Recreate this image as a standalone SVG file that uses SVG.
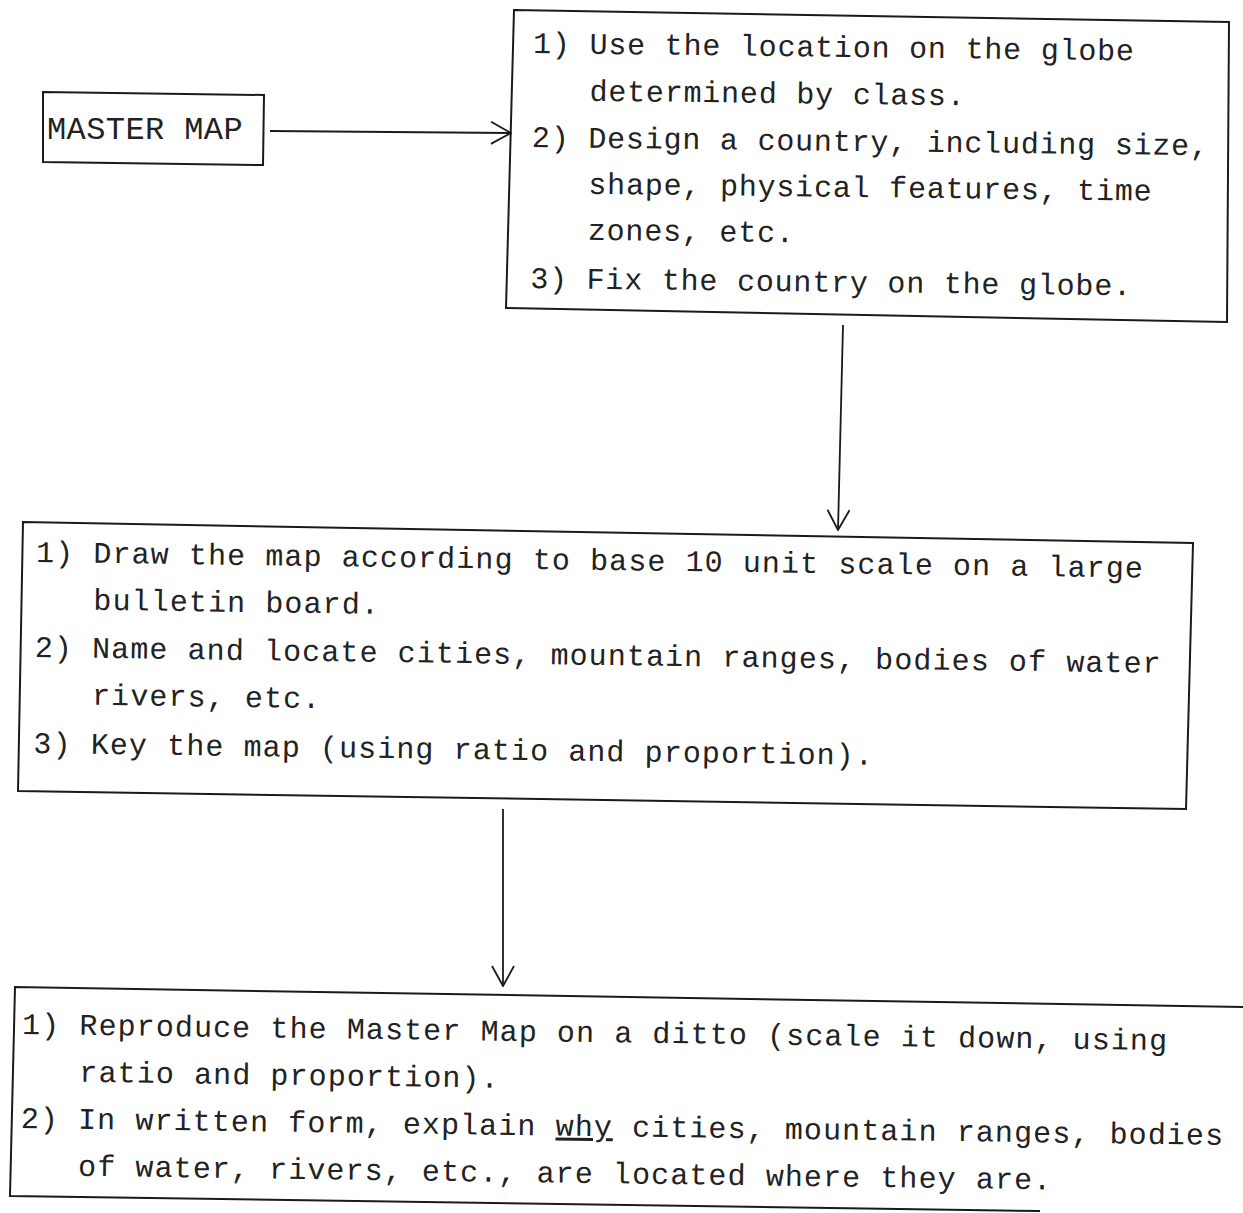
<svg xmlns="http://www.w3.org/2000/svg" width="1243" height="1213" viewBox="0 0 1243 1213">
<defs>
<style>
.box{fill:none;stroke:#1a1a1a;stroke-width:2}
.t{font-family:"Liberation Mono","Courier New",monospace;font-size:30px;fill:#222222;letter-spacing:1.1px}
.t1{letter-spacing:0.8px}
.tm{font-size:32px;letter-spacing:0.4px}
.c{fill:none;stroke:#1a1a1a;stroke-width:1.8}
</style>
<marker id="arr" viewBox="0 0 22 24" refX="21" refY="12" markerWidth="22" markerHeight="24" markerUnits="userSpaceOnUse" orient="auto">
<path d="M1,1 L21,12 L1,23" fill="none" stroke="#1a1a1a" stroke-width="1.8"/>
</marker>
</defs>
<rect width="1243" height="1213" fill="#ffffff"/>

<g id="master-map">
<polygon class="box" points="43,92 264,95 263,165 43,162"/>
<text class="t tm" x="47" y="139">MASTER MAP</text>
</g>

<g id="box-globe">
<polygon class="box" points="514,10 1229,22 1227,322 506,308"/>
<g transform="rotate(0.7 533 53)">
<text class="t t1" x="533" y="53">1) Use the location on the globe</text>
<text class="t t1" x="590" y="100">determined by class.</text>
<text class="t t1" x="533" y="147">2) Design a country, including size,</text>
<text class="t t1" x="590" y="193">shape, physical features, time</text>
<text class="t t1" x="590" y="239">zones, etc.</text>
<text class="t t1" x="533" y="288">3) Fix the country on the globe.</text>
</g>
</g>

<g id="box-map">
<polygon class="box" points="23,522 1193,543 1186,809 18,791"/>
<g transform="rotate(0.8 36 562)">
<text class="t" x="36" y="562">1) Draw the map according to base 10 unit scale on a large</text>
<text class="t" x="94" y="609">bulletin board.</text>
<text class="t" x="36" y="657">2) Name and locate cities, mountain ranges, bodies of water</text>
<text class="t" x="94" y="704">rivers, etc.</text>
<text class="t" x="36" y="753">3) Key the map (using ratio and proportion).</text>
</g>
</g>

<g id="box-ditto">
<polyline class="box" points="1243,1007 15,987 10,1196 1040,1211"/>
<g transform="rotate(0.8 22 1034)">
<text class="t" x="22" y="1034">1) Reproduce the Master Map on a ditto (scale it down, using</text>
<text class="t" x="80" y="1081">ratio and proportion).</text>
<text class="t" x="22" y="1128">2) In written form, explain <tspan text-decoration="underline">why</tspan> cities, mountain ranges, bodies</text>
<text class="t" x="80" y="1175">of water, rivers, etc., are located where they are.</text>
</g>
</g>

<g id="connectors">
<line class="c" x1="270" y1="131" x2="511" y2="133" marker-end="url(#arr)"/>
<line class="c" x1="843" y1="325" x2="838" y2="530" marker-end="url(#arr)"/>
<line class="c" x1="503" y1="809" x2="503" y2="986" marker-end="url(#arr)"/>
</g>
</svg>
